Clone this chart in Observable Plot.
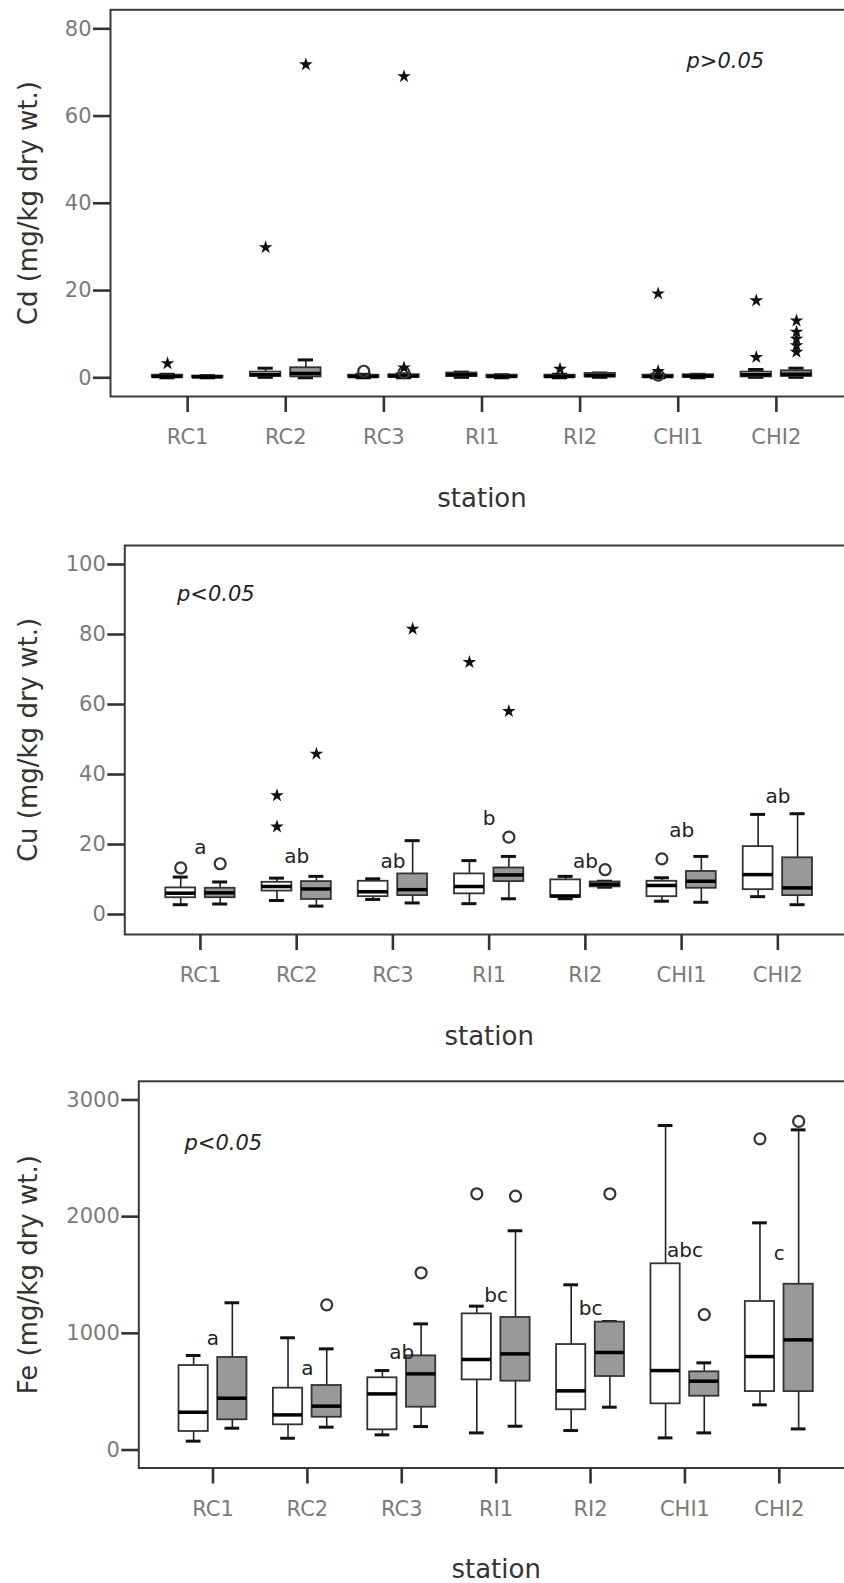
<!DOCTYPE html>
<html><head><meta charset="utf-8">
<script src="https://cdn.jsdelivr.net/npm/d3@7"></script>
<script src="https://cdn.jsdelivr.net/npm/@observablehq/plot@0.6"></script>
<style>
html,body{margin:0;padding:0;background:#fff;overflow:hidden;width:844px;height:1583px;}
#wrap{position:relative;width:844px;height:1583px;overflow:hidden;background:#fff;}
.panel{position:absolute;left:0;width:862px;}
.panel svg{max-width:none !important;}
</style></head>
<body><div id="wrap"></div>
<script>
// ---------- data ----------
const stations = ["RC1","RC2","RC3","RI1","RI2","CHI1","CHI2"];
// box statistics per station: [min, q1, median, q3, max]; white = first group, gray = second group
const cdWhite = [[0.0,0.1,0.3,0.6,0.8],[0.1,0.3,0.7,1.3,2.2],[0.0,0.1,0.3,0.6,0.8],[0.1,0.3,0.7,1.1,1.3],[0.0,0.1,0.3,0.6,0.8],[0.0,0.1,0.3,0.6,0.7],[0.1,0.2,0.7,1.3,1.9]];
const cdGray  = [[0.0,0.05,0.2,0.4,0.5],[0.0,0.2,1.0,2.3,4.1],[0.0,0.1,0.4,0.7,0.9],[0.0,0.1,0.3,0.6,0.7],[0.1,0.2,0.5,1.0,1.1],[0.0,0.1,0.4,0.7,0.8],[0.1,0.3,0.8,1.6,2.2]];
const cdCircles = [["RC3",0,1.5],["RC3",1,1.2],["CHI1",0,0.6]];
const cdStars = [["RC1",0,3.3],["RC2",0,29.9],["RC2",1,71.8],["RC3",1,69.1],["RC3",1,2.3],["RI2",0,2.0],["CHI1",0,19.3],["CHI1",0,1.5],["CHI2",0,17.7],["CHI2",0,4.7],["CHI2",1,13.1],["CHI2",1,10.5],["CHI2",1,8.9],["CHI2",1,7.4],["CHI2",1,5.9]];
const cdLetters = [];
const cdP = [{text:"p>0.05", x:5.48, y:72.6}];
const cdTicks = [0,20,40,60,80];

const cuWhite = [[2.8,4.8,6.1,7.6,10.7],[4.0,6.7,8.0,9.2,10.4],[4.3,5.1,6.5,9.5,10.2],[3.1,5.9,8.0,11.6,15.4],[4.5,4.9,5.3,9.9,10.9],[3.8,5.1,8.3,9.5,10.5],[5.1,7.1,11.4,19.4,28.6]];
const cuGray  = [[3.0,4.8,6.2,7.5,9.3],[2.4,4.3,7.3,9.4,10.9],[3.3,5.4,7.1,11.6,21.1],[4.5,9.4,11.3,13.3,16.6],[7.8,7.9,8.6,9.3,9.5],[3.5,7.5,9.5,12.3,16.6],[2.8,5.4,7.6,16.2,28.8]];
const cuCircles = [["RC1",0,13.3],["RC1",1,14.5],["RI1",1,22.1],["RI2",1,12.8],["CHI1",0,15.9]];
const cuStars = [["RC2",0,34.0],["RC2",0,25.1],["RC2",1,45.9],["RC3",1,81.6],["RI1",0,72.1],["RI1",1,58.1]];
const cuLetters = [["RC1","a",19.2],["RC2","ab",16.6],["RC3","ab",15.1],["RI1","b",27.4],["RI2","ab",15.1],["CHI1","ab",23.9],["CHI2","ab",33.8]];
const cuP = [{text:"p<0.05", x:0.16, y:91.4}];
const cuTicks = [0,20,40,60,80,100];

const feWhite = [[76,159,324,724,810],[101,216,301,530,962],[130,173,481,619,681],[147,601,776,1167,1233],[167,345,507,904,1416],[104,396,681,1596,2781],[387,501,801,1273,1947]];
const feGray  = [[187,259,444,793,1262],[196,281,376,553,867],[201,367,653,807,1081],[204,590,824,1136,1879],[367,630,836,1096,1101],[147,461,590,670,747],[181,501,944,1421,2744]];
const feCircles = [["RC2",1,1244],["RC3",1,1519],["RI1",0,2196],["RI1",1,2176],["RI2",1,2196],["CHI1",1,1161],["CHI2",0,2667],["CHI2",1,2816]];
const feStars = [];
const feLetters = [["RC1","a",953],["RC2","a",696],["RC3","ab",833],["RI1","bc",1324],["RI2","bc",1210],["CHI1","abc",1710],["CHI2","c",1687]];
const feP = [{text:"p<0.05", x:0.11, y:2627}];
const feTicks = [0,1000,2000,3000];

// ---------- drawing ----------
const FONT = "'DejaVu Sans', 'Noto Sans', sans-serif";
const OFF = 0.205, BW = 0.31, CAP = 0.078, PAD = 0.786;
const idx = s => stations.indexOf(s);
const cx = d => d.i + (d.g ? OFF : -OFF);

function rows(white, gray) {
  const r = [];
  white.forEach((v,i)=>r.push({i, g:0, min:v[0], q1:v[1], med:v[2], q3:v[3], max:v[4]}));
  gray.forEach((v,i)=>r.push({i, g:1, min:v[0], q1:v[1], med:v[2], q3:v[3], max:v[4]}));
  return r;
}
const pts = arr => arr.map(([s,g,v]) => ({i: idx(s), g, v}));

function panel(cfg) {
  const stats = rows(cfg.white, cfg.gray);
  const W = 862;
  const chart = Plot.plot({
    width: W, height: cfg.height,
    marginLeft: cfg.left, marginRight: 9, marginTop: cfg.mt, marginBottom: cfg.mb,
    style: {fontFamily: FONT, background: "transparent", overflow: "visible", maxWidth: "none"},
    x: {type: "linear", domain: [-PAD, 6 + PAD]},
    y: {type: "linear", domain: cfg.yDomain},
    marks: [
      Plot.frame({stroke: "#3a3a3a", strokeWidth: 2}),
      Plot.ruleX(stats, {x: cx, y1: "min", y2: "max", stroke: "#222", strokeWidth: 1.6}),
      Plot.ruleY(stats, {y: "min", x1: d => cx(d) - CAP, x2: d => cx(d) + CAP, stroke: "#111", strokeWidth: 3}),
      Plot.ruleY(stats, {y: "max", x1: d => cx(d) - CAP, x2: d => cx(d) + CAP, stroke: "#111", strokeWidth: 3}),
      Plot.rect(stats.filter(d => !d.g), {x1: d => cx(d) - BW/2, x2: d => cx(d) + BW/2, y1: "q1", y2: "q3", fill: "#ffffff", stroke: "#333", strokeWidth: 1.8}),
      Plot.rect(stats.filter(d => d.g), {x1: d => cx(d) - BW/2, x2: d => cx(d) + BW/2, y1: "q1", y2: "q3", fill: "#999999", stroke: "#333", strokeWidth: 1.8}),
      Plot.ruleY(stats, {y: "med", x1: d => cx(d) - BW/2, x2: d => cx(d) + BW/2, stroke: "#000", strokeWidth: 3.5}),
      Plot.dot(pts(cfg.circles), {x: cx, y: "v", r: 5.5, stroke: "#333", strokeWidth: 2.2, fill: "none"}),
      Plot.dot(pts(cfg.stars), {x: cx, y: "v", symbol: "star", r: 4.3, fill: "#111", stroke: "none"}),
      Plot.text(cfg.letters, {x: d => idx(d[0]), y: d => d[2], text: d => d[1], fontSize: 20, fill: "#222", lineAnchor: "middle"}),
      Plot.text(cfg.p, {x: "x", y: "y", text: "text", fontSize: 21, fontStyle: "italic", fill: "#222", lineAnchor: "middle"}),
      Plot.axisY({ticks: cfg.ticks, tickSize: 17, tickFormat: () => "", stroke: "#333", strokeWidth: 2.6, label: null}),
      Plot.axisY({ticks: cfg.ticks, tickSize: 0, tickPadding: 19, tickFormat: d => String(d), fill: "#7a7a7a", fontSize: 21, label: null}),
      Plot.axisX({ticks: d3.range(7), tickSize: 16, tickFormat: () => "", stroke: "#333", strokeWidth: 2.6, label: null}),
      Plot.axisX({ticks: d3.range(7), tickSize: 0, tickPadding: 41, tickFormat: i => stations[i], lineAnchor: "middle", fill: "#7a7a7a", fontSize: 21, label: null}),
      Plot.text([cfg.title], {frameAnchor: "left", rotate: -90, dx: -(cfg.left - 28.5), text: d => d, fontSize: 26, fill: "#333", lineAnchor: "middle", textAnchor: "middle"}),
      Plot.text(["station"], {frameAnchor: "bottom", dy: 102, text: d => d, fontSize: 26, fill: "#333", lineAnchor: "middle"})
    ]
  });
  chart.style.maxWidth = "none";
  const div = document.createElement("div");
  div.className = "panel";
  div.style.top = cfg.top + "px";
  div.appendChild(chart);
  document.getElementById("wrap").appendChild(div);
}

panel({top: 0, height: 520, left: 110, mt: 9.3, mb: 124, yDomain: [-4.29, 84.36], ticks: cdTicks,
  white: cdWhite, gray: cdGray, circles: cdCircles, stars: cdStars, letters: cdLetters, p: cdP, title: "Cd (mg/kg dry wt.)"});
panel({top: 520, height: 525, left: 124.3, mt: 25, mb: 111, yDomain: [-5.71, 105.43], ticks: cuTicks,
  white: cuWhite, gray: cuGray, circles: cuCircles, stars: cuStars, letters: cuLetters, p: cuP, title: "Cu (mg/kg dry wt.)"});
panel({top: 1045, height: 538, left: 138.3, mt: 35.8, mb: 115.5, yDomain: [-154, 3160], ticks: feTicks,
  white: feWhite, gray: feGray, circles: feCircles, stars: feStars, letters: feLetters, p: feP, title: "Fe (mg/kg dry wt.)"});
</script>
</body></html>
